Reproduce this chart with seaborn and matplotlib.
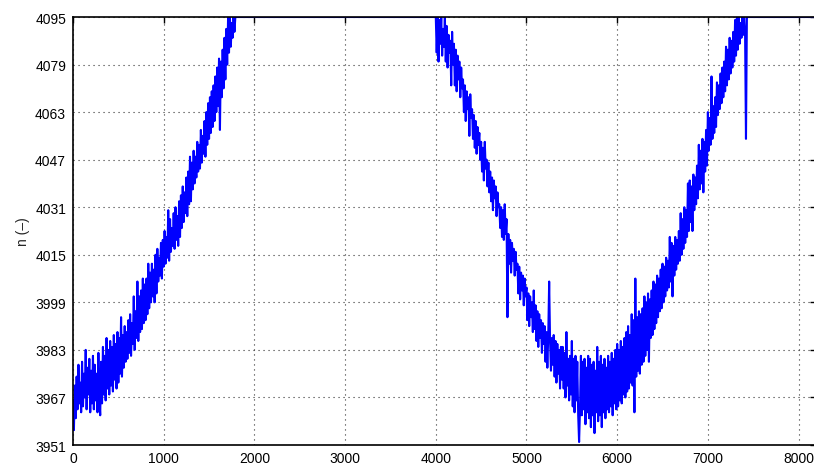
import numpy as np
import pandas as pd
import matplotlib
matplotlib.use("Agg")
import matplotlib.pyplot as plt
import seaborn as sns

# sample spacing of the trace (index units)
step = 10
n_max = 4095

# rising part, x = 0 .. 1800 (one row per 100 samples)
n_left = [
    3966, 3956, 3971, 3960, 3974, 3963, 3978, 3965, 3972, 3962,
    3979, 3964, 3975, 3967, 3983, 3963, 3977, 3968, 3980, 3962,
    3976, 3965, 3981, 3963, 3978, 3966, 3975, 3962, 3982, 3967,
    3961, 3979, 3965, 3984, 3968, 3981, 3966, 3987, 3970, 3983,
    3968, 3986, 3971, 3984, 3969, 3988, 3973, 3985, 3970, 3989,
    3972, 3987, 3975, 3994, 3974, 3988, 3977, 3991, 3979, 3989,
    3980, 3993, 3982, 3995, 3981, 3992, 3985, 4001, 3983, 3996,
    3987, 4006, 3986, 4001, 3989, 4003, 3990, 4007, 3992, 4005,
    3993, 4007, 3995, 4012, 3997, 4009, 3999, 4012, 4001, 4010,
    3999, 4015, 4002, 4017, 4006, 4014, 4008, 4019, 4007, 4020,
    4011, 4023, 4012, 4021, 4014, 4030, 4013, 4027, 4016, 4024,
    4018, 4029, 4017, 4031, 4020, 4028, 4018, 4033, 4021, 4035,
    4024, 4038, 4026, 4036, 4029, 4041, 4028, 4043, 4032, 4048,
    4033, 4046, 4037, 4050, 4039, 4048, 4041, 4053, 4043, 4052,
    4044, 4057, 4046, 4055, 4049, 4060, 4048, 4063, 4052, 4066,
    4054, 4068, 4056, 4070, 4058, 4072, 4060, 4075, 4063, 4078,
    4065, 4081, 4057, 4080, 4068, 4084, 4071, 4088, 4074, 4091,
    4079, 4095, 4083, 4095, 4085, 4093, 4088, 4095, 4090, 4095,
    4095]
n_flat1 = [n_max] * 219          # x = 1810 .. 3990 (saturated)
# falling then rising part, x = 4000 .. 7440 (one row per 100 samples)
n_right = [
    4095, 4083, 4095, 4080, 4094, 4086, 4095, 4082, 4091, 4085,
    4095, 4080, 4092, 4078, 4089, 4083, 4087, 4072, 4090, 4079,
    4086, 4072, 4084, 4070, 4082, 4074, 4080, 4068, 4078, 4071,
    4074, 4063, 4072, 4060, 4070, 4064, 4068, 4055, 4069, 4061,
    4064, 4054, 4062, 4051, 4060, 4049, 4058, 4052, 4056, 4047,
    4053, 4043, 4051, 4040, 4053, 4044, 4047, 4038, 4046, 4036,
    4043, 4033, 4041, 4030, 4040, 4034, 4038, 4028, 4036, 4031,
    4032, 4024, 4031, 4021, 4030, 4020, 4032, 4022, 4027, 3994,
    4022, 4012, 4020, 4009, 4019, 4013, 4017, 4008, 4016, 4010,
    4012, 4002, 4011, 4000, 4009, 4003, 4008, 3998, 4007, 4001,
    4004, 3993, 4002, 3991, 4001, 3994, 3999, 3989, 4003, 3990,
    3998, 3986, 3996, 3984, 3995, 3987, 3993, 3982, 3992, 3985,
    3991, 3979, 3989, 3977, 3988, 4006, 3986, 3976, 3987, 3978,
    3988, 3974, 3986, 3972, 3985, 3975, 3983, 3970, 3984, 3973,
    3984, 3970, 3982, 3967, 3989, 3971, 3980, 3966, 3981, 3968,
    3986, 3964, 3980, 3962, 3981, 3966, 3979, 3961, 3952, 3963,
    3981, 3961, 3979, 3963, 3980, 3958, 3977, 3962, 3981, 3960,
    3980, 3957, 3978, 3961, 3979, 3955, 3976, 3962, 3984, 3959,
    3979, 3961, 3981, 3957, 3978, 3962, 3980, 3960, 3977, 3963,
    3981, 3962, 3979, 3964, 3982, 3961, 3980, 3965, 3983, 3963,
    3985, 3964, 3983, 3966, 3986, 3965, 3984, 3968, 3987, 3967,
    3989, 3969, 3991, 3970, 3988, 3972, 3995, 3971, 3993, 3962,
    4007, 3974, 3994, 3976, 3996, 3975, 3995, 3978, 3997, 3979,
    4001, 3981, 3999, 3983, 4002, 3979, 4000, 3987, 4003, 3988,
    4006, 3990, 4005, 3992, 4008, 3994, 4007, 3996, 4010, 3997,
    4012, 3999, 4011, 4001, 4014, 4003, 4013, 4004, 4021, 4006,
    4019, 4001, 4018, 4008, 4021, 4010, 4020, 4012, 4023, 4013,
    4029, 4015, 4027, 4017, 4031, 4019, 4030, 4021, 4039, 4023,
    4040, 4026, 4038, 4023, 4042, 4030, 4041, 4032, 4045, 4034,
    4052, 4037, 4050, 4039, 4054, 4036, 4053, 4043, 4057, 4045,
    4063, 4050, 4061, 4052, 4075, 4054, 4065, 4056, 4068, 4058,
    4073, 4062, 4072, 4064, 4076, 4066, 4078, 4068, 4080, 4070,
    4085, 4072, 4084, 4074, 4088, 4076, 4087, 4078, 4090, 4080,
    4094, 4082, 4095, 4084, 4095, 4086, 4093, 4088, 4095, 4089,
    4095, 4090, 4054, 4095, 4095]
n_flat2 = [n_max] * 75           # x = 7450 .. 8190 (saturated)

x_ticks = [0, 1000, 2000, 3000, 4000, 5000, 6000, 7000, 8000]
y_ticks = [3951, 3967, 3983, 3999, 4015, 4031, 4047, 4063, 4079, 4095]

n_all = n_left + n_flat1 + n_right + n_flat2
df = pd.DataFrame({"k": np.arange(len(n_all)) * step, "n": n_all})

sns.set_style("white")
plt.rcParams["font.family"] = ["Liberation Sans", "DejaVu Sans"]
plt.rcParams["path.simplify"] = False

fig = plt.figure(figsize=(8.14, 4.64), dpi=100)
ax = fig.add_axes([73 / 814, 18 / 464, (816 - 73) / 814, 428 / 464])
sns.lineplot(data=df, x="k", y="n", ax=ax, color="#0000ff", linewidth=1.5,
             estimator=None, sort=False)

ax.set_xlim(0, 8192)
ax.set_ylim(3951, 4095)
ax.set_xticks(x_ticks)
ax.set_yticks(y_ticks)
ax.set_xlabel("")
ax.set_ylabel("n (–)", fontsize=10)
ax.grid(True, linestyle=(0, (1, 3.5)), color="#333333", linewidth=0.8)
ax.tick_params(direction="in", top=True, right=True, length=4, width=1,
               labelsize=10, colors="black")
ax.tick_params(axis="x", pad=4)
ax.tick_params(axis="y", pad=5)
for s in ax.spines.values():
    s.set_visible(True)
    s.set_color("black")
    s.set_linewidth(1.2)

fig.savefig("out.png", dpi=100)
